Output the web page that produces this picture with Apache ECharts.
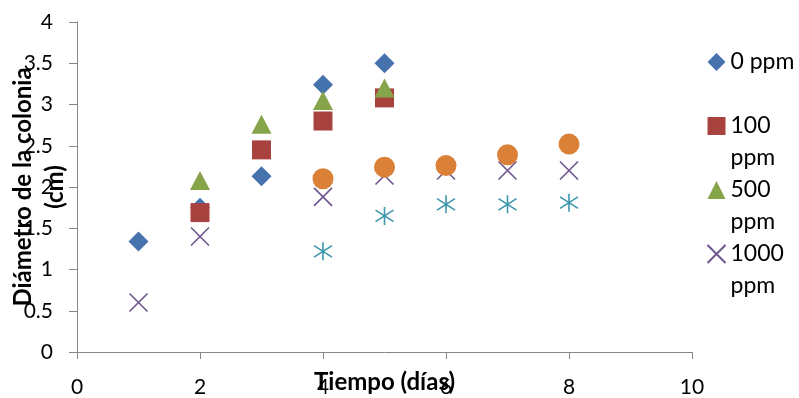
<!DOCTYPE html>
<html><head><meta charset="utf-8">
<script src="https://cdn.jsdelivr.net/npm/echarts@6/dist/echarts.min.js"></script>
<style>html,body{margin:0;padding:0;background:#fff}#c{width:799px;height:398px}</style>
</head><body><div id="c"></div>
<script>
const xTicks = [0, 2, 4, 6, 8, 10];
const yTicks = [0, 0.5, 1, 1.5, 2, 2.5, 3, 3.5, 4];
const seriesNames = ['0 ppm', '100 ppm', '500 ppm', '1000 ppm', 'Serie5', 'Serie6'];
const days0 = [1, 2, 3, 4, 5];
const ppm0 = [1.34, 1.75, 2.13, 3.24, 3.5];
const days100 = [2, 3, 4, 5];
const ppm100 = [1.69, 2.45, 2.8, 3.08];
const days500 = [2, 3, 4, 5];
const ppm500 = [2.08, 2.76, 3.05, 3.2];
const days1000 = [1, 2, 4, 5, 6, 7, 8];
const ppm1000 = [0.6, 1.4, 1.88, 2.14, 2.2, 2.2, 2.2];
const days5 = [4, 5, 6, 7, 8];
const serie5 = [2.1, 2.24, 2.26, 2.39, 2.52];
const days6 = [4, 5, 6, 7, 8];
const serie6 = [1.22, 1.65, 1.79, 1.79, 1.81];

const F = 'Lato';
const axisGray = '#868686';
const pts = (xs, ys) => xs.map((x, i) => [x, ys[i]]);
const X_PATH = 'path://M0,0L10,10M10,0L0,10';
const AST_PATH = 'path://M5,0L5,10M0.8,1.8L9.2,8.2M0.8,8.2L9.2,1.8';

const chart = echarts.init(document.getElementById('c'), null, {renderer: 'canvas'});
chart.setOption({
  animation: false,
  grid: {left: 77, right: 107, top: 22, bottom: 46, containLabel: false, outerBoundsMode: 'none'},
  xAxis: {
    type: 'value', min: xTicks[0], max: xTicks[xTicks.length - 1], interval: 2,
    name: 'Tiempo (días)', nameLocation: 'middle', nameGap: 17, nameMoveOverlap: false,
    nameTextStyle: {fontFamily: F, fontSize: 24, fontWeight: 'bold', color: '#000', verticalAlign: 'top', lineHeight: 26},
    axisLine: {lineStyle: {color: axisGray, width: 1}},
    axisTick: {show: true, inside: false, length: 7, lineStyle: {color: axisGray}},
    axisLabel: {fontFamily: F, fontSize: 21, color: '#000', margin: 25},
    splitLine: {show: false}
  },
  yAxis: {
    type: 'value', min: yTicks[0], max: yTicks[yTicks.length - 1], interval: 0.5,
    name: 'Diámetro de la colonia\n(cm)', nameLocation: 'middle', nameGap: 6, nameMoveOverlap: false,
    nameTextStyle: {fontFamily: F, fontSize: 24, fontWeight: 'bold', color: '#000', lineHeight: 32},
    axisLine: {show: true, lineStyle: {color: axisGray, width: 1}},
    axisTick: {show: true, inside: false, length: 8, lineStyle: {color: axisGray}},
    axisLabel: {fontFamily: F, fontSize: 21, color: '#000', margin: 24},
    splitLine: {show: false}
  },
  legend: {
    data: seriesNames.slice(0, 4),
    orient: 'vertical', left: 705, top: 14, itemGap: -32, padding: 0,
    itemWidth: 18, itemHeight: 18,
    selectedMode: false,
    formatter: n => {
      const parts = n.split(' ');
      return n === '0 ppm' ? '\n0 ppm\n' : '\n' + parts[0] + '\n' + parts[1];
    },
    textStyle: {fontFamily: F, fontSize: 23, color: '#000', lineHeight: 32}
  },
  series: [
    {name: seriesNames[0], type: 'scatter', data: pts(days0, ppm0), symbol: 'diamond', symbolSize: 20,
     itemStyle: {color: '#4672AE', opacity: 1}},
    {name: seriesNames[1], type: 'scatter', data: pts(days100, ppm100), symbol: 'rect', symbolSize: 19,
     itemStyle: {color: '#A8423F', opacity: 1}},
    {name: seriesNames[2], type: 'scatter', data: pts(days500, ppm500), symbol: 'triangle', symbolSize: [20, 19],
     itemStyle: {color: '#86A44A', opacity: 1}},
    {name: seriesNames[3], type: 'scatter', data: pts(days1000, ppm1000), symbol: X_PATH, symbolSize: 18,
     itemStyle: {color: 'none', borderColor: '#6E548D', borderWidth: 1.6, opacity: 1}},
    {name: seriesNames[4], type: 'scatter', data: pts(days5, serie5), symbol: 'circle', symbolSize: 21,
     itemStyle: {color: '#DA8137', opacity: 1}},
    {name: seriesNames[5], type: 'scatter', data: pts(days6, serie6), symbol: AST_PATH, symbolSize: 18,
     itemStyle: {color: 'none', borderColor: '#3D96AE', borderWidth: 1.6, opacity: 1}}
  ].map(s => Object.assign(s, {emphasis: {disabled: true}}))
});
</script></body></html>
